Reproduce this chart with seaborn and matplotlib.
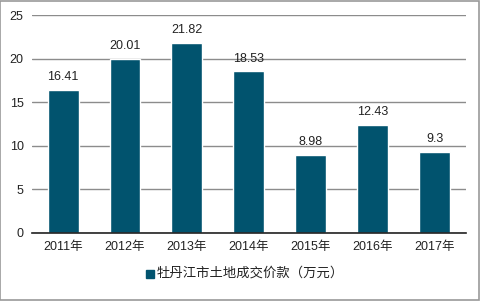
import matplotlib
matplotlib.use("Agg")
import matplotlib.pyplot as plt
import seaborn as sns
import pandas as pd
from matplotlib.patches import Rectangle

years = ["2011年", "2012年", "2013年", "2014年", "2015年", "2016年", "2017年"]
values = [16.41, 20.01, 21.82, 18.53, 8.98, 12.43, 9.3]
value_labels = ["16.41", "20.01", "21.82", "18.53", "8.98", "12.43", "9.3"]
series_name = "牡丹江市土地成交价款（万元）"
yticks = [0, 5, 10, 15, 20, 25]

sns.set_theme(style="white")
plt.rcParams['font.family'] = ['Liberation Sans', 'Noto Sans CJK SC', 'DejaVu Sans']

df = pd.DataFrame({"year": years, "value": values, "series": series_name})

color = "#01536e"
fig = plt.figure(figsize=(4.8, 3.01), dpi=100)
ax = fig.add_axes([0.0667, 0.226, 0.904, 0.724])

sns.barplot(data=df, x="year", y="value", hue="series", palette=[color],
            width=0.5, ax=ax, saturation=1, legend=False)

ax.set_ylim(0, 25)
ax.set_yticks(yticks)
ax.set_xlim(-0.5, len(years) - 0.5)
ax.yaxis.grid(True, color="#8c8c8c", linewidth=1)
ax.set_axisbelow(True)
for s in ["top", "right", "left"]:
    ax.spines[s].set_visible(False)
ax.spines["bottom"].set_color("#222222")
ax.spines["bottom"].set_linewidth(1.2)
ax.tick_params(axis="both", length=0, labelsize=9, colors="#222222", pad=6)
ax.set_xlabel("")
ax.set_ylabel("")

for i, (v, lab) in enumerate(zip(values, value_labels)):
    ax.annotate(lab, (i, v), xytext=(0, 5), textcoords="offset points",
                ha="center", va="bottom", fontsize=9, color="#222222")

# legend
fig.patches.append(Rectangle((146 / 480, 1 - 278 / 301), 8 / 480, 8 / 301,
                             transform=fig.transFigure, color=color))
fig.text(157 / 480, 1 - 273 / 301, series_name, fontsize=9.6, color="#222222",
         ha="left", va="center", family=['Noto Sans CJK SC', 'DejaVu Sans'])

# figure border
fig.patches.append(Rectangle((0.001, 0.002), 0.997, 0.996, transform=fig.transFigure,
                             fill=False, edgecolor="#999999", linewidth=1.2))

fig.savefig("out.png", dpi=100)
